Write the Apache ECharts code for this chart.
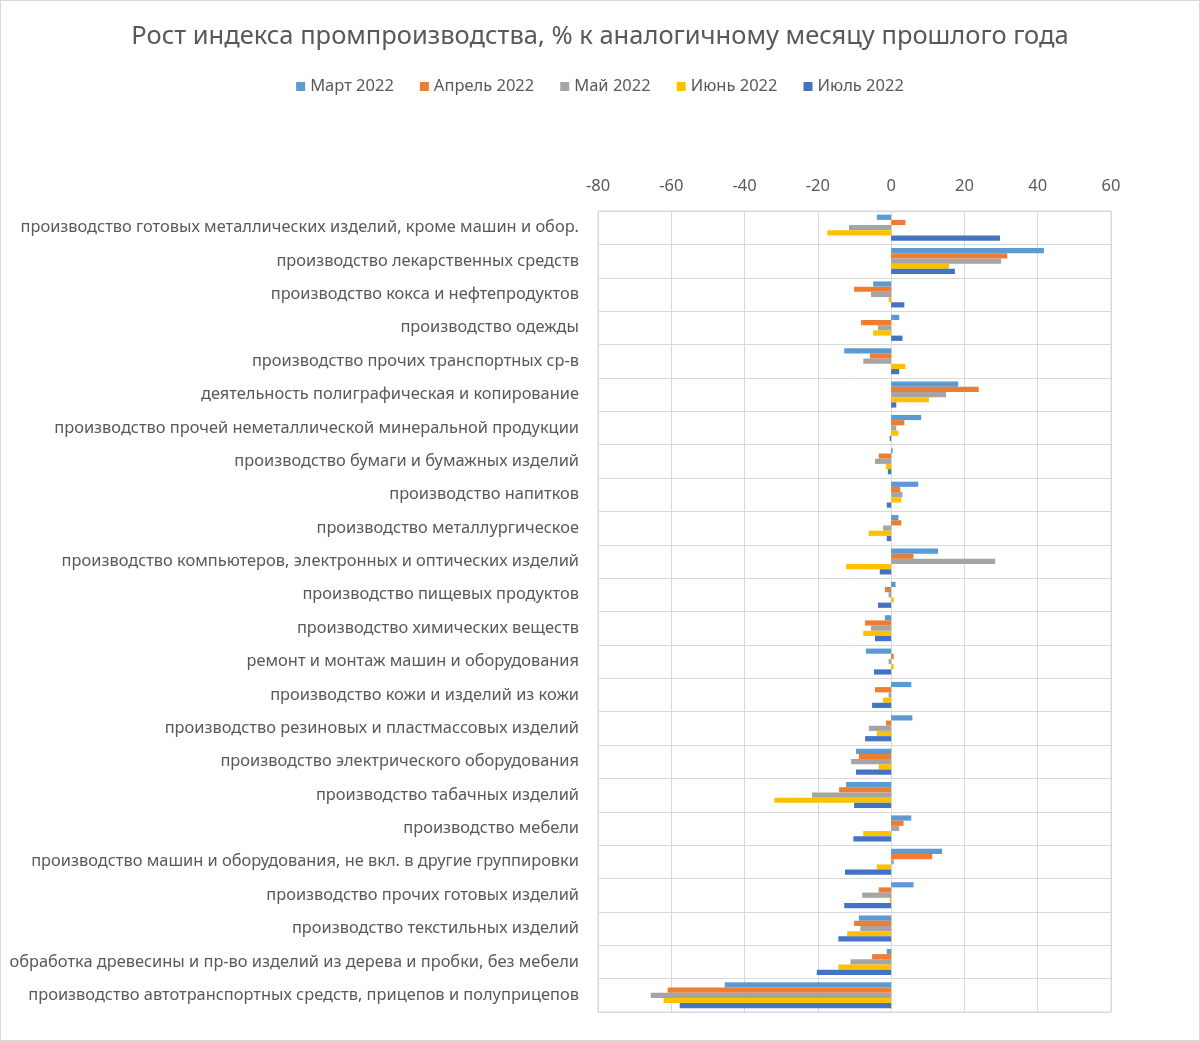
<!DOCTYPE html>
<html><head><meta charset="utf-8">
<script src="https://cdn.jsdelivr.net/npm/echarts@6/dist/echarts.min.js"></script>
<style>html,body{margin:0;padding:0;background:#fff}#c{width:1200px;height:1041px;box-sizing:border-box;border:1px solid #d9d9d9}</style>
</head><body><div id="c"></div>
<script>
const categories = [
"производство готовых металлических изделий, кроме машин и обор.",
"производство лекарственных средств",
"производство кокса и нефтепродуктов",
"производство одежды",
"производство прочих транспортных ср-в",
"деятельность полиграфическая и копирование",
"производство прочей неметаллической минеральной продукции",
"производство бумаги и бумажных изделий",
"производство напитков",
"производство металлургическое",
"производство компьютеров, электронных и оптических изделий",
"производство пищевых продуктов",
"производство химических веществ",
"ремонт и монтаж машин и оборудования",
"производство кожи и изделий из кожи",
"производство резиновых и пластмассовых изделий",
"производство электрического оборудования",
"производство табачных изделий",
"производство мебели",
"производство машин и оборудования, не вкл. в другие группировки",
"производство прочих готовых изделий",
"производство текстильных изделий",
"обработка древесины и пр-во изделий из дерева и пробки, без мебели",
"производство автотранспортных средств, прицепов и полуприцепов"
];
const seriesNames = ["Март 2022","Апрель 2022","Май 2022","Июнь 2022","Июль 2022"];
const mar = [-3.9,41.7,-4.9,2.2,-12.8,18.3,8.2,0.4,7.4,2.0,12.8,1.2,-1.7,-6.9,5.5,5.8,-9.6,-12.3,5.5,13.9,6.1,-8.8,-1.2,-45.4];
const apr = [3.9,31.7,-10.1,-8.2,-5.8,23.9,3.6,-3.4,2.5,2.8,6.1,-1.7,-7.1,0.7,-4.4,-1.4,-8.8,-14.2,3.4,11.2,-3.4,-10.1,-5.2,-61.0];
const may = [-11.5,30.0,-5.5,-3.6,-7.6,15.0,1.4,-4.4,3.1,-2.2,28.4,-0.7,-5.5,-0.7,-0.7,-6.1,-10.9,-21.6,2.2,0.7,-7.9,-8.4,-11.1,-65.6];
const jun = [-17.4,15.8,-0.7,-4.9,3.9,10.3,2.0,-1.4,2.8,-6.1,-12.3,0.7,-7.6,0.7,-2.2,-3.9,-3.4,-31.9,-7.6,-3.9,-0.4,-12.0,-14.4,-62.1];
const jul = [29.7,17.4,3.6,3.1,2.2,1.4,-0.4,-0.9,-1.2,-1.2,-3.1,-3.6,-4.4,-4.7,-5.2,-7.1,-9.6,-10.1,-10.3,-12.6,-12.8,-14.4,-20.3,-57.7];
const xTicks = {min:-80, max:60, interval:20};
const colors = ["#5B9BD5","#ED7D31","#A5A5A5","#FFC000","#4472C4"];
const values = [mar, apr, may, jun, jul];

const FONT = "Noto Sans";
const chart = echarts.init(document.getElementById('c'));
chart.setOption({
  animation:false,
  color: colors,
  textStyle:{fontFamily:FONT},
  title:{text:"Рост индекса промпроизводства, % к аналогичному месяцу прошлого года", left:'center', top:18,
    textStyle:{fontFamily:FONT, fontSize:25.5, fontWeight:'normal', color:'#595959'}},
  legend:{top:72, left:'center', itemWidth:9, itemHeight:9, itemGap:26, icon:'rect',
    textStyle:{fontFamily:FONT, fontSize:16.5, color:'#595959'}, data: seriesNames},
  grid:{left:597, right:88, top:210, bottom:28, show:true, borderColor:'#d9d9d9', borderWidth:1, containLabel:false},
  xAxis:{type:'value', position:'top', min:xTicks.min, max:xTicks.max, interval:xTicks.interval,
    axisLine:{show:false}, axisTick:{show:false},
    axisLabel:{fontFamily:FONT, fontSize:16.5, color:'#595959', margin:16},
    splitLine:{show:true, lineStyle:{color:'#d9d9d9', width:1}}},
  yAxis:{type:'category', inverse:true, data:categories,
    axisLine:{show:false}, axisTick:{show:false},
    axisLabel:{fontFamily:FONT, fontSize:16.4, color:'#595959', margin:19},
    splitLine:{show:true, lineStyle:{color:'#d9d9d9', width:1}}},
  series: seriesNames.map((n,i)=>({name:n, type:'bar', data:values[i], barGap:'0%', barCategoryGap:'22%'}))
});
</script></body></html>
